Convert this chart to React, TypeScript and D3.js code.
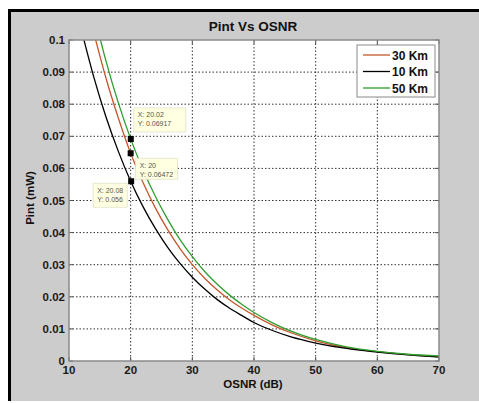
import * as d3 from 'd3';
import React, { FC } from 'react';

// OSNR (dB) sample points and Pint (mW)
const osnr10 = [12, 14, 16, 18, 20, 22, 24, 26, 28, 30, 32, 34, 36, 38, 40, 43, 46, 50, 55, 60, 65, 70];
const pint10 = [0.1032, 0.0886, 0.076, 0.0653, 0.056, 0.0481, 0.0413, 0.0354, 0.0304, 0.0261, 0.0224, 0.0192, 0.0165, 0.0142, 0.012, 0.0095, 0.0075, 0.0056, 0.0039, 0.0028, 0.0019, 0.0012];

const osnr30 = [14, 16, 18, 20, 22, 24, 26, 28, 30, 32, 34, 36, 38, 40, 43, 46, 50, 55, 60, 65, 70];
const pint30 = [0.1024, 0.0881, 0.0757, 0.0647, 0.0556, 0.0477, 0.0409, 0.035, 0.03, 0.0258, 0.0222, 0.0191, 0.0165, 0.0142, 0.0112, 0.0088, 0.0063, 0.0042, 0.0029, 0.002, 0.0014];

const osnr50 = [14, 16, 18, 20, 22, 24, 26, 28, 30, 32, 34, 36, 38, 40, 43, 46, 50, 55, 60, 65, 70];
const pint50 = [0.1086, 0.0934, 0.0804, 0.0692, 0.0596, 0.0513, 0.0441, 0.0378, 0.0325, 0.0279, 0.024, 0.0206, 0.0177, 0.0151, 0.0119, 0.0093, 0.0067, 0.0044, 0.003, 0.0021, 0.0016];

const xTicks = [10, 20, 30, 40, 50, 60, 70];
const yTicks = [0, 0.01, 0.02, 0.03, 0.04, 0.05, 0.06, 0.07, 0.08, 0.09, 0.1];

// data tips on the curves at OSNR ~ 20
const tipX = [20.02, 20, 20.08];
const tipY = [0.06917, 0.06472, 0.056];
const tipText = [['X: 20.02', 'Y: 0.06917'], ['X: 20', 'Y: 0.06472'], ['X: 20.08', 'Y: 0.056']];

const legendNames = ['30 Km', '10 Km', '50 Km'];
const colors = ['#c4572b', '#000000', '#2e9e2e'];

const left = 69;
const right = 439;
const top = 40;
const bottom = 361;
const font = 'Arial, "Liberation Sans", sans-serif';

const App: FC = () => {
  const x = d3.scaleLinear().domain([10, 70]).range([left, right]);
  const y = d3.scaleLinear().domain([0, 0.1]).range([bottom, top]);

  const line = d3
    .line<[number, number]>()
    .x((d) => x(d[0]))
    .y((d) => y(d[1]))
    .curve(d3.curveMonotoneX);

  const series = [
    osnr30.map((v, i) => [v, pint30[i]] as [number, number]),
    osnr10.map((v, i) => [v, pint10[i]] as [number, number]),
    osnr50.map((v, i) => [v, pint50[i]] as [number, number])
  ];

  // box placement of each tip relative to its marker: dx, dy, width, height
  const tipOffset = [
    [3, -31, 52, 24],
    [5, 5, 42, 21],
    [-38, 2, 34, 24]
  ];

  return (
    <svg
      width={479}
      height={403}
      style={{ position: 'absolute', left: 0, top: 0 }}
      fontFamily={font}
    >
      <rect x={8} y={9} width={471} height={392} fill="#cccccc" />
      <rect x={8} y={9} width={471} height={3} fill="#000" />
      <rect x={8} y={9} width={3} height={392} fill="#000" />

      <text x={253} y={31} textAnchor="middle" fontSize={13.5} fontWeight="bold" fill="#111">
        Pint Vs OSNR
      </text>

      <rect x={left} y={top} width={right - left} height={bottom - top} fill="#fff" />

      <defs>
        <clipPath id="plot">
          <rect x={left} y={top} width={right - left} height={bottom - top} />
        </clipPath>
      </defs>

      {xTicks.slice(1, -1).map((t) => (
        <line key={'gx' + t} x1={x(t)} x2={x(t)} y1={top} y2={bottom} stroke="#333" strokeWidth={1} strokeDasharray="1.5,2" />
      ))}
      {yTicks.slice(1, -1).map((t) => (
        <line key={'gy' + t} x1={left} x2={right} y1={y(t)} y2={y(t)} stroke="#333" strokeWidth={1} strokeDasharray="1.5,2" />
      ))}

      {xTicks.map((t) => (
        <g key={'tx' + t}>
          <line x1={x(t)} x2={x(t)} y1={bottom} y2={bottom - 4} stroke="#555" />
          <line x1={x(t)} x2={x(t)} y1={top} y2={top + 4} stroke="#555" />
          <text x={x(t)} y={374} textAnchor="middle" fontSize={11.5} fontWeight="bold" fill="#1a1a1a">
            {t}
          </text>
        </g>
      ))}
      {yTicks.map((t) => (
        <g key={'ty' + t}>
          <line x1={left} x2={left + 4} y1={y(t)} y2={y(t)} stroke="#555" />
          <line x1={right} x2={right - 4} y1={y(t)} y2={y(t)} stroke="#555" />
          <text x={65} y={y(t) + 4} textAnchor="end" fontSize={11.5} fontWeight="bold" fill="#1a1a1a">
            {t === 0 ? '0' : d3.format('.2~f')(t)}
          </text>
        </g>
      ))}

      <g clipPath="url(#plot)">
        {series.map((s, i) => (
          <path key={i} d={line(s) ?? ''} fill="none" stroke={colors[i]} strokeWidth={1.3} />
        ))}
      </g>

      <rect x={left} y={top} width={right - left} height={bottom - top} fill="none" stroke="#8a8a8a" strokeWidth={1.5} />

      <text x={253} y={388} textAnchor="middle" fontSize={11.5} fontWeight="bold" fill="#111">
        OSNR (dB)
      </text>
      <text
        transform="translate(34,198) rotate(-90)"
        textAnchor="middle"
        fontSize={11.5}
        fontWeight="bold"
        fill="#111"
      >
        Pint (mW)
      </text>

      {tipX.map((tx, i) => {
        const px = x(tx);
        const py = y(tipY[i]);
        const [ox, oy, w, h] = tipOffset[i];
        return (
          <g key={'tip' + i}>
            <rect x={px + ox} y={py + oy} width={w} height={h} fill="#ffffe1" stroke="#e2e2c8" strokeWidth={0.8} />
            <text x={px + ox + 4} y={py + oy + 9.5} fontSize={7} fill="#555">
              {tipText[i][0]}
            </text>
            <text x={px + ox + 4} y={py + oy + 18.5} fontSize={7} fill="#555">
              {tipText[i][1]}
            </text>
            <rect x={px - 3} y={py - 3} width={6} height={6} fill="#000" />
          </g>
        );
      })}

      <rect x={357} y={45} width={78} height={52} fill="#fff" stroke="#8a8a8a" strokeWidth={1} />
      {legendNames.map((n, i) => (
        <g key={n}>
          <line x1={363} x2={390} y1={55 + i * 16.5} y2={55 + i * 16.5} stroke={colors[i]} strokeWidth={1.3} />
          <text x={392} y={59.5 + i * 16.5} fontSize={12} fontWeight="bold" fill="#111">
            {n}
          </text>
        </g>
      ))}
    </svg>
  );
};

export default App;
